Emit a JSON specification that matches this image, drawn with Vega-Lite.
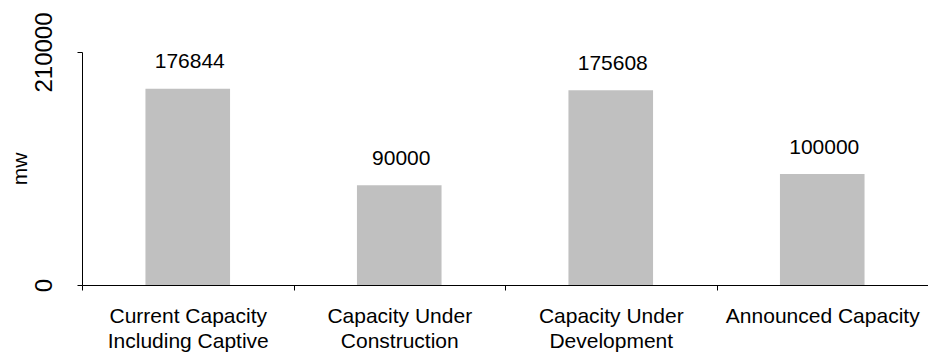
{
  "$schema": "https://vega.github.io/schema/vega-lite/v6.json",
  "width": 846,
  "height": 233,
  "autosize": {"type": "none"},
  "padding": {"left": 82, "top": 52, "right": 0, "bottom": 69},
  "config": {
    "view": {"stroke": null},
    "font": "Liberation Sans",
    "axis": {"grid": false, "domainColor": "#000000", "tickColor": "#000000", "labelColor": "#000000", "titleColor": "#000000", "labelFont": "Liberation Sans", "titleFont": "Liberation Sans", "titleFontWeight": "normal"}
  },
  "data": {
    "values": [
      {"category": "Current Capacity Including Captive", "mw": 176844},
      {"category": "Capacity Under Construction", "mw": 90000},
      {"category": "Capacity Under Development", "mw": 175608},
      {"category": "Announced Capacity", "mw": 100000}
    ]
  },
  "encoding": {
    "x": {
      "field": "category",
      "type": "nominal",
      "sort": null,
      "scale": {"paddingInner": 0, "paddingOuter": 0},
      "axis": {
        "title": null,
        "labelAngle": 0,
        "labelFontSize": 21,
        "labelLineHeight": 25,
        "labelPadding": 15,
        "labelLimit": 300,
        "tickBand": "extent",
        "tickSize": 5,
        "labelExpr": "datum.value == 'Current Capacity Including Captive' ? ['Current Capacity', 'Including Captive'] : datum.value == 'Capacity Under Construction' ? ['Capacity Under', 'Construction'] : datum.value == 'Capacity Under Development' ? ['Capacity Under', 'Development'] : datum.value"
      }
    },
    "y": {
      "field": "mw",
      "type": "quantitative",
      "scale": {"domain": [0, 210000], "nice": false},
      "axis": {
        "title": "mw",
        "titleFontSize": 21,
        "titleX": -62,
        "titleBaseline": "middle",
        "values": [0, 210000],
        "format": "d",
        "labelAngle": -90,
        "labelFontSize": 24,
        "labelPadding": 21,
        "tickSize": 5,
        "labelFlush": false,
        "labelOverlap": false
      }
    }
  },
  "layer": [
    {"mark": {"type": "bar", "color": "#c0c0c0", "width": {"band": 0.4}}},
    {"mark": {"type": "text", "dy": -20.5, "dx": 2, "baseline": "alphabetic", "fontSize": 21, "color": "#000000"}, "encoding": {"text": {"field": "mw", "type": "quantitative", "format": "d"}}}
  ]
}
